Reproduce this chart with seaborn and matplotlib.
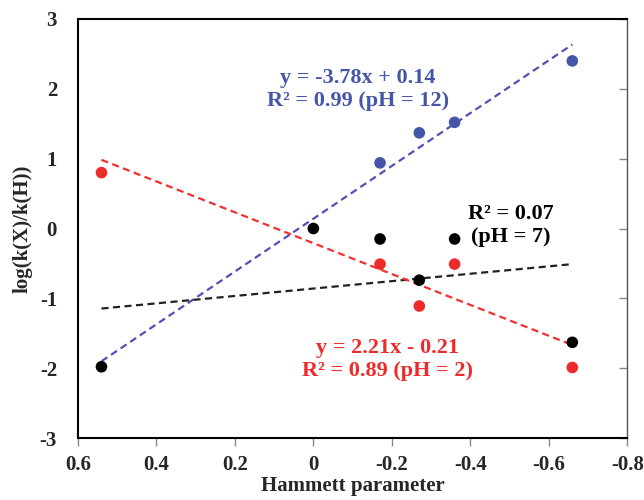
import numpy as np
import pandas as pd
import seaborn as sns
import matplotlib
matplotlib.use("Agg")
import matplotlib.pyplot as plt

# Hammett parameter values and log(k(X)/k(H)) at each pH
x_ph12 = [-0.17, -0.27, -0.36, -0.66]
y_ph12 = [0.94, 1.37, 1.52, 2.40]
x_ph7 = [0.54, 0.0, -0.17, -0.27, -0.36, -0.66]
y_ph7 = [-1.98, 0.0, -0.15, -0.74, -0.15, -1.63]
x_ph2 = [0.54, -0.17, -0.27, -0.36, -0.66]
y_ph2 = [0.80, -0.51, -1.11, -0.51, -1.99]

# trendline coefficients (slope, intercept) as given in the figure
fit_ph12 = (-3.78, 0.14)
fit_ph7 = (-0.53, -0.86)
fit_ph2 = (2.21, -0.21)
fit_range = [0.54, -0.66]

xtick_vals = [0.6, 0.4, 0.2, 0, -0.2, -0.4, -0.6, -0.8]
xtick_labels = ["0.6", "0.4", "0.2", "0", "-0.2", "-0.4", "-0.6", "-0.8"]
ytick_vals = [-3, -2, -1, 0, 1, 2, 3]
ytick_labels = ["-3", "-2", "-1", "0", "1", "2", "3"]

blue = "#4556a8"
red = "#ee2b2b"
black = "#000000"

df = pd.concat([
    pd.DataFrame({"x": x_ph12, "y": y_ph12, "pH": "12"}),
    pd.DataFrame({"x": x_ph7, "y": y_ph7, "pH": "7"}),
    pd.DataFrame({"x": x_ph2, "y": y_ph2, "pH": "2"}),
])

sns.set_style("white")
plt.rcParams["font.family"] = ["Liberation Serif", "DejaVu Serif"]
plt.rcParams["font.weight"] = "bold"

fig = plt.figure(figsize=(6.44, 5.0), dpi=100)
ax = fig.add_axes([0.121, 0.124, 0.853, 0.838])

sns.scatterplot(data=df, x="x", y="y", hue="pH",
                palette={"12": blue, "7": black, "2": red},
                s=70, linewidth=0, legend=False, ax=ax, zorder=3)

xs = np.array(fit_range)
for (m, b), c in [(fit_ph12, "#5151b5"), (fit_ph7, "#222222"), (fit_ph2, "#f23030")]:
    ax.plot(xs, m * xs + b, ls=(0, (3.2, 2)), color=c, lw=1.6, zorder=2)

ax.set_xlim(0.6, -0.8)
ax.set_ylim(-3, 3)
ax.set_xticks(xtick_vals)
ax.set_xticklabels(xtick_labels)
ax.set_yticks(ytick_vals)
ax.set_yticklabels(ytick_labels)

for t in ax.get_xticklabels() + ax.get_yticklabels():
    t.set_fontsize(15)
    t.set_fontweight("bold")

ax.tick_params(axis="x", bottom=True, direction="out", length=6, width=1, color="#888888", pad=6)
ax.tick_params(axis="y", left=False, right=True, direction="in", length=6, width=1,
               color="#888888", labelleft=True, labelright=False, pad=15)

for side in ["left", "bottom", "top"]:
    ax.spines[side].set_color("black")
    ax.spines[side].set_linewidth(1.5)
ax.spines["right"].set_color("#555555")
ax.spines["right"].set_linewidth(1.0)

ax.set_xlabel("Hammett parameter", fontsize=15, fontweight="bold", labelpad=1)
ax.set_ylabel("log(k(X)/k(H))", fontsize=15, fontweight="bold", labelpad=5)

ax.text(-0.114, 1.99, "y = -3.78x + 0.14\nR\u00b2 = 0.99 (pH = 12)", color=blue,
        fontsize=16, fontweight="bold", ha="center", va="center", linespacing=1.2)
ax.text(-0.19, -1.88, "y = 2.21x - 0.21\nR\u00b2 = 0.89 (pH = 2)", color=red,
        fontsize=16, fontweight="bold", ha="center", va="center", linespacing=1.2)
ax.text(-0.502, 0.04, "R\u00b2 = 0.07\n(pH = 7)", color=black,
        fontsize=16, fontweight="bold", ha="center", va="center", linespacing=1.2)

fig.savefig("out.png", dpi=100)
